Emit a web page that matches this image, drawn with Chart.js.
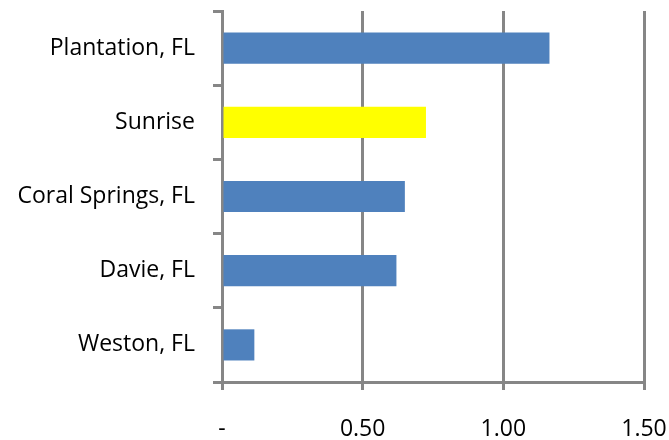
<!DOCTYPE html>
<html>
<head>
<meta charset="utf-8">
<script src="https://cdn.jsdelivr.net/npm/chart.js@4/dist/chart.umd.min.js"></script>
<style>
  html, body { margin: 0; padding: 0; background: #ffffff; }
  #wrap { width: 669px; height: 440px; }
</style>
</head>
<body>
<div id="wrap"><canvas id="c" width="669" height="440"></canvas></div>
<script>
// Cities, top to bottom
const cities = ['Plantation, FL', 'Sunrise', 'Coral Springs, FL', 'Davie, FL', 'Weston, FL'];
// Values per city
const values = [1.164, 0.725, 0.650, 0.620, 0.115];
// Bar colours (Sunrise highlighted)
const barColors = ['#4F81BD', '#FFFF00', '#4F81BD', '#4F81BD', '#4F81BD'];
// Value axis ticks and their labels
const tickValues = [0, 0.5, 1, 1.5];
const tickLabels = ['-', '0.50', '1.00', '1.50'];

const axisGrey = '#868686';
const fontFamily = '"Open Sans", Lato, sans-serif';
const fontSize = 23;

new Chart(document.getElementById('c'), {
  type: 'bar',
  data: {
    labels: cities,
    datasets: [{
      data: values,
      backgroundColor: barColors,
      borderWidth: 0,
      categoryPercentage: 0.42,
      barPercentage: 1.0
    }]
  },
  options: {
    indexAxis: 'y',
    responsive: false,
    animation: false,
    layout: { padding: { top: 11, right: 25, bottom: 0, left: 0 } },
    plugins: { legend: { display: false }, tooltip: { enabled: false } },
    scales: {
      x: {
        min: 0,
        max: 1.5,
        afterBuildTicks: (scale) => { scale.ticks = tickValues.map(v => ({ value: v })); },
        afterFit: (scale) => {
          scale.height = 58;
          scale.paddingLeft = 0;
          scale.paddingRight = 0;
        },
        ticks: {
          autoSkip: false,
          maxRotation: 0,
          padding: 26,
          color: '#000000',
          font: { family: fontFamily, size: fontSize },
          callback: (v) => tickLabels[tickValues.indexOf(v)]
        },
        grid: { color: axisGrey, lineWidth: 3, tickLength: 8, drawTicks: true },
        border: { display: true, color: axisGrey, width: 3 }
      },
      y: {
        afterFit: (scale) => {
          scale.width = 222;
          scale.paddingTop = 0;
          scale.paddingBottom = 0;
        },
        ticks: {
          padding: 18,
          color: '#000000',
          font: { family: fontFamily, size: fontSize }
        },
        grid: { offset: true, drawOnChartArea: false, drawTicks: true, tickLength: 9, color: axisGrey, lineWidth: 3 },
        border: { display: true, color: axisGrey, width: 3 }
      }
    }
  }
});
</script>
</body>
</html>
